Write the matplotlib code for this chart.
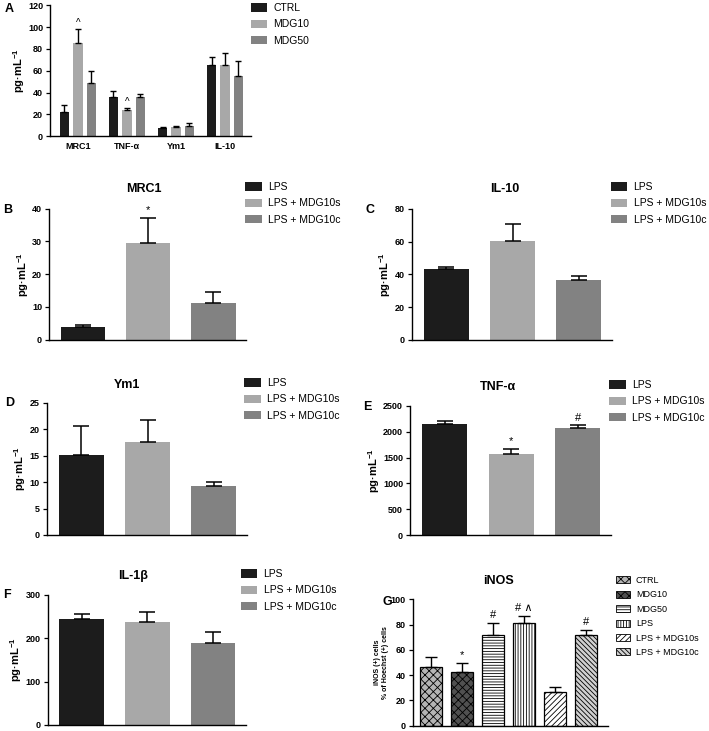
import numpy as np
import matplotlib.pyplot as plt
from matplotlib.patches import Patch

# ===================== Data =====================
A_CYTOKINES = ["MRC1", "TNF-α", "Ym1", "IL-10"]
A_GROUPS = ["CTRL", "MDG10", "MDG50"]
A_CTRL_MEAN = [22.6, 36.0, 7.6, 65.0]
A_CTRL_SEM = [5.8, 5.5, 1.3, 7.7]
A_MDG10_MEAN = [85.8, 24.0, 8.5, 65.0]
A_MDG10_SEM = [12.2, 2.0, 1.0, 11.6]
A_MDG50_MEAN = [49.0, 35.7, 9.5, 55.0]
A_MDG50_SEM = [11.0, 3.3, 2.4, 14.3]
A_MDG10_MARKS = ["^", "^", "", ""]

LPS_GROUPS = ["LPS", "LPS + MDG10s", "LPS + MDG10c"]

MRC1_MEAN = [3.8, 29.4, 11.3]
MRC1_SEM = [0.7, 7.8, 3.2]
MRC1_MARKS = ["", "*", ""]

IL10_MEAN = [43.3, 60.4, 36.7]
IL10_SEM = [1.2, 10.6, 2.1]
IL10_MARKS = ["", "", ""]

YM1_MEAN = [15.2, 17.6, 9.3]
YM1_SEM = [5.4, 4.1, 0.7]
YM1_MARKS = ["", "", ""]

TNF_MEAN = [2140, 1562, 2063]
TNF_SEM = [58, 103, 58]
TNF_MARKS = ["", "*", "#"]

IL1B_MEAN = [244.0, 236.4, 189.7]
IL1B_SEM = [11.5, 23.0, 23.8]
IL1B_MARKS = ["", "", ""]

INOS_GROUPS = ["CTRL", "MDG10", "MDG50", "LPS", "LPS + MDG10s", "LPS + MDG10c"]
INOS_MEAN = [46.2, 42.2, 72.0, 81.3, 26.4, 72.0]
INOS_SEM = [8.4, 7.4, 9.5, 5.5, 3.9, 3.7]
INOS_MARKS = ["", "*", "#", "# ∧", "", "#"]

# ===================== Style =====================
W, H = 709, 731
DARK = "#1c1c1c"
LIGHT = "#a8a8a8"
MID = "#828282"
GREY3 = [DARK, LIGHT, MID]

INOS_FACE = ["#b5b5b5", "#505050", "white", "white", "white", "#d0d0d0"]
INOS_HATCH = ["xxxx", "xxxx", "------", "||||||", "//////", "\\\\\\\\\\\\\\"]

TICK_FS = 6.5
YLAB = r"pg·mL$^{\mathbf{-1}}$"

plt.rcParams["font.family"] = ["Liberation Sans", "DejaVu Sans"]
plt.rcParams["mathtext.fontset"] = "custom"
plt.rcParams["mathtext.rm"] = "Liberation Sans"
plt.rcParams["mathtext.bf"] = "Liberation Sans:bold"
plt.rcParams["hatch.linewidth"] = 0.6


def add_axes_px(fig, left, top, right, bottom):
    return fig.add_axes([left / W, 1 - bottom / H, (right - left) / W, (bottom - top) / H])


def style_axes(ax, yticks):
    for s in ["top", "right"]:
        ax.spines[s].set_visible(False)
    for s in ["left", "bottom"]:
        ax.spines[s].set_linewidth(1.0)
    ax.set_ylim(yticks[0], yticks[-1])
    ax.set_yticks(yticks, labels=[str(t) for t in yticks], fontsize=TICK_FS, fontweight="bold")
    ax.tick_params(axis="y", direction="out", length=3, width=0.9, pad=2)
    ax.tick_params(axis="x", direction="out", length=0)


def annotate_marks(ax, xs, tops, marks, fs=8, dy=2):
    for x, t, m in zip(xs, tops, marks):
        if m:
            ax.annotate(m, (x, t), xytext=(0, dy), textcoords="offset points",
                        ha="center", va="bottom", fontsize=fs)


def add_legend(fig, handles, labels, x_px, y_px, fs=7.5, spacing=0.62,
               hl=1.6, hh=0.85):
    fig.legend(handles, labels, loc="upper left",
               bbox_to_anchor=(x_px / W, 1 - y_px / H), frameon=False,
               fontsize=fs, handlelength=hl, handleheight=hh, handletextpad=0.6,
               labelspacing=spacing, borderpad=0, borderaxespad=0)


def lps_panel(fig, box, title, title_x, pad, means, sems, marks, yticks, letter, letter_xy, legend_xy):
    ax = add_axes_px(fig, *box)
    x = np.arange(len(means))
    ax.bar(x, means, width=0.68, color=GREY3, edgecolor="none", zorder=2)
    ax.errorbar(x, means, yerr=[np.zeros(len(sems)), sems], fmt="none",
                ecolor="black", elinewidth=1.1, capsize=5.5, capthick=1.1, zorder=3)
    style_axes(ax, yticks)
    ax.set_xlim(-0.52, 2.5)
    ax.set_xticks([])
    ax.set_ylabel(YLAB, fontsize=8, fontweight="bold", labelpad=1)
    ax.set_title(title, x=title_x, pad=pad, fontsize=9, fontweight="bold")
    annotate_marks(ax, x, np.array(means) + np.array(sems), marks, fs=8)
    fig.text(letter_xy[0] / W, 1 - letter_xy[1] / H, letter, fontsize=9,
             fontweight="bold", ha="left", va="center")
    handles = [Patch(facecolor=c, edgecolor="none") for c in GREY3]
    add_legend(fig, handles, LPS_GROUPS, *legend_xy)
    return ax


fig = plt.figure(figsize=(W / 100, H / 100), dpi=100)

# ---- Panel A ----
axA = add_axes_px(fig, 50, 5.3, 251, 136.3)
xa = np.arange(len(A_CYTOKINES))
bw = 0.19
offs = [-0.275, 0.0, 0.275]
a_means = [A_CTRL_MEAN, A_MDG10_MEAN, A_MDG50_MEAN]
a_sems = [A_CTRL_SEM, A_MDG10_SEM, A_MDG50_SEM]
for off, m, s, c in zip(offs, a_means, a_sems, GREY3):
    axA.bar(xa + off, m, width=bw, color=c, edgecolor="none", zorder=2)
    axA.errorbar(xa + off, m, yerr=[np.zeros(len(s)), s], fmt="none", ecolor="black",
                 elinewidth=1.0, capsize=2.5, capthick=1.0, zorder=3)
style_axes(axA, [0, 20, 40, 60, 80, 100, 120])
axA.set_xlim(-0.57, 3.53)
axA.set_xticks(xa, labels=A_CYTOKINES, fontsize=TICK_FS, fontweight="bold")
axA.tick_params(axis="x", length=0, pad=4)
axA.set_ylabel(YLAB, fontsize=8, fontweight="bold", labelpad=1)
annotate_marks(axA, xa + offs[1], np.array(A_MDG10_MEAN) + np.array(A_MDG10_SEM),
               A_MDG10_MARKS, fs=7, dy=1)
fig.text(5 / W, 1 - 9 / H, "A", fontsize=9, fontweight="bold", ha="left", va="center")
add_legend(fig, [Patch(facecolor=c, edgecolor="none") for c in GREY3], A_GROUPS, 250.7, 3)

# ---- Panels B-F ----
lps_panel(fig, (49, 208.7, 246, 339.7), "MRC1", 0.48, 12, MRC1_MEAN, MRC1_SEM, MRC1_MARKS,
          [0, 10, 20, 30, 40], "B", (3, 210), (245, 182))
lps_panel(fig, (411.7, 209, 612, 339.7), "IL-10", 0.465, 12, IL10_MEAN, IL10_SEM, IL10_MARKS,
          [0, 20, 40, 60, 80], "C", (366, 210), (610.7, 182))
lps_panel(fig, (46.7, 403, 247, 535), "Ym1", 0.40, 11, YM1_MEAN, YM1_SEM, YM1_MARKS,
          [0, 5, 10, 15, 20, 25], "D", (5, 403), (244, 378))
lps_panel(fig, (410, 405.7, 611, 535.3), "TNF-α", 0.44, 11, TNF_MEAN, TNF_SEM, TNF_MARKS,
          [0, 500, 1000, 1500, 2000, 2500], "E", (363, 407), (609, 380))
lps_panel(fig, (47.7, 594.7, 245.6, 725), "IL-1β", 0.43, 11, IL1B_MEAN, IL1B_SEM, IL1B_MARKS,
          [0, 100, 200, 300], "F", (3, 595), (240.7, 569))

# ---- Panel G ----
axG = add_axes_px(fig, 412.7, 599.3, 607.7, 725.7)
xg = np.arange(len(INOS_MEAN))
axG.bar(xg, INOS_MEAN, width=0.68, color=INOS_FACE, edgecolor="black",
        linewidth=0.9, hatch=INOS_HATCH, zorder=2)
axG.errorbar(xg, INOS_MEAN, yerr=[np.zeros(len(INOS_SEM)), INOS_SEM], fmt="none",
             ecolor="black", elinewidth=1.0, capsize=4, capthick=1.0, zorder=3)
style_axes(axG, [0, 20, 40, 60, 80, 100])
axG.set_xlim(-0.59, 5.7)
axG.set_xticks([])
axG.set_ylabel("iNOS (+) cells\n% of Hoechst (+) cells", fontsize=5, fontweight="bold",
               labelpad=1, linespacing=1.3)
axG.set_title("iNOS", x=0.44, pad=11, fontsize=9, fontweight="bold")
annotate_marks(axG, xg, np.array(INOS_MEAN) + np.array(INOS_SEM), INOS_MARKS, fs=8, dy=2)
fig.text(382 / W, 1 - 602 / H, "G", fontsize=9, fontweight="bold", ha="left", va="center")
g_handles = [Patch(facecolor=f, edgecolor="black", hatch=h, linewidth=0.6)
             for f, h in zip(INOS_FACE, INOS_HATCH)]
add_legend(fig, g_handles, INOS_GROUPS, 616, 576, fs=6.5, spacing=0.6, hl=1.6, hh=0.8)

fig.savefig("out.png", dpi=100)
